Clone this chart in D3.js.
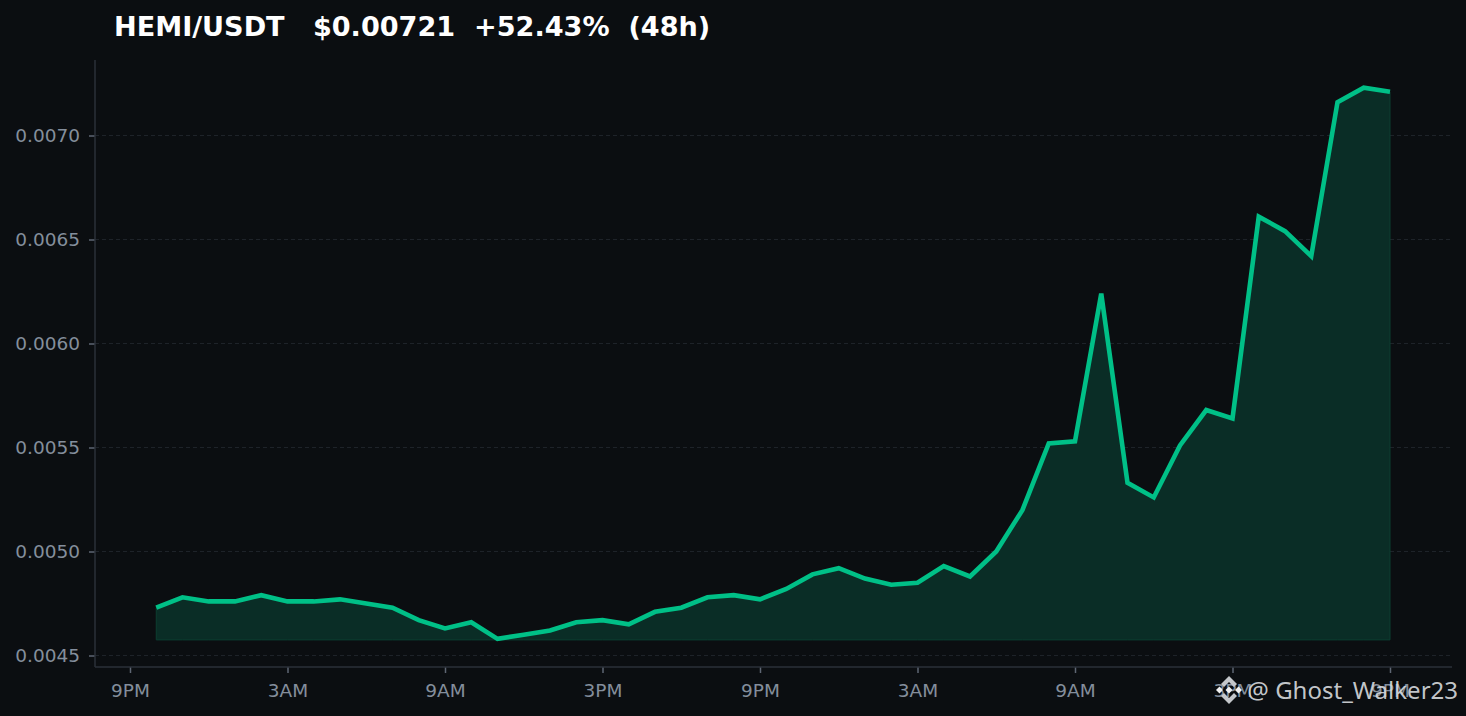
<!DOCTYPE html>
<html>
<head>
<meta charset="utf-8">
<script src="https://cdn.jsdelivr.net/npm/d3@7"></script>
<style>
html, body { margin: 0; padding: 0; background: #0b0e11; overflow: hidden; }
text { font-family: "DejaVu Sans", sans-serif; }
</style>
</head>
<body>
<div id="chart"></div>
<script>
var prices = [0.00473, 0.00478, 0.00476, 0.00476, 0.00479, 0.00476, 0.00476, 0.00477,
	0.00475, 0.00473, 0.00467, 0.00463, 0.00466, 0.00458, 0.00460, 0.00462,
	0.00466, 0.00467, 0.00465, 0.00471, 0.00473, 0.00478, 0.00479, 0.00477,
	0.00482, 0.00489, 0.00492, 0.00487, 0.00484, 0.00485, 0.00493, 0.00488,
	0.00500, 0.00520, 0.00552, 0.00553, 0.00624, 0.00533, 0.00526, 0.00551,
	0.00568, 0.00564, 0.00661, 0.00654, 0.00642, 0.00716, 0.00723, 0.00721];
var hours = d3.range(1, prices.length + 1);
var xTickHours = [0, 6, 12, 18, 24, 30, 36, 42, 48];
var xTickLabels = ["9PM", "3AM", "9AM", "3PM", "9PM", "3AM", "9AM", "3PM", "9PM"];
var yTicks = [0.0045, 0.0050, 0.0055, 0.0060, 0.0065, 0.0070];
var fillBase = 0.004575;
var title = "HEMI/USDT   $0.00721  +52.43%  (48h)";
var watermark = "@ Ghost_Walker23";

var width = 1466, height = 716;
var left = 95, right = 1452, top_ = 60, bottom = 667;

var svg = d3.select("#chart").append("svg")
	.attr("width", width)
	.attr("height", height)
	.style("display", "block");

svg.append("rect").attr("width", width).attr("height", height).attr("fill", "#0b0e11");

var x = d3.scaleLinear().domain([0, 48]).range([130, 1390]);
var y = d3.scaleLinear().domain([0.0045, 0.0070]).range([655.5, 135.5]);

// grid
svg.append("g").selectAll("line").data(yTicks).join("line")
	.attr("x1", left).attr("x2", right)
	.attr("y1", d => y(d)).attr("y2", d => y(d))
	.attr("stroke", "#1e2329")
	.attr("stroke-width", 1)
	.attr("stroke-dasharray", "4,3");

// area under the line
var area = d3.area()
	.x((d, i) => x(hours[i]))
	.y0(y(fillBase))
	.y1(d => y(d));

svg.append("path").datum(prices)
	.attr("d", area)
	.attr("fill", "#0a2d26")
	.attr("stroke", "#0c3e31")
	.attr("stroke-width", 1);

var line = d3.line()
	.x((d, i) => x(hours[i]))
	.y(d => y(d));

svg.append("path").datum(prices)
	.attr("d", line)
	.attr("fill", "none")
	.attr("stroke", "#00c087")
	.attr("stroke-width", 4.6)
	.attr("stroke-linejoin", "miter");

// axes
var xAxis = d3.axisBottom(x)
	.tickValues(xTickHours)
	.tickFormat((d, i) => xTickLabels[i])
	.tickSize(6).tickPadding(11);
var yAxis = d3.axisLeft(y)
	.tickValues(yTicks)
	.tickFormat(d3.format(".4f"))
	.tickSize(6).tickPadding(9);

var gx = svg.append("g").attr("transform", "translate(0," + bottom + ")").call(xAxis);
var gy = svg.append("g").attr("transform", "translate(" + left + ",0)").call(yAxis);

gx.select(".domain").remove();
gy.select(".domain").remove();
[gx, gy].forEach(function(g) {
	g.selectAll("line").attr("stroke", "#5e6673").attr("stroke-width", 1.5);
	g.selectAll("text").attr("fill", "#848e9c").style("font-size", "18.5px")
		.style("font-family", '"DejaVu Sans", sans-serif');
});

svg.append("line").attr("x1", left).attr("x2", left).attr("y1", top_).attr("y2", bottom)
	.attr("stroke", "#2b3139").attr("stroke-width", 1.5);
svg.append("line").attr("x1", left).attr("x2", right).attr("y1", bottom).attr("y2", bottom)
	.attr("stroke", "#2b3139").attr("stroke-width", 1.5);

// title
svg.append("text").attr("x", 114).attr("y", 36)
	.attr("fill", "#ffffff")
	.style("font-size", "27.1px")
	.style("font-weight", "bold")
	.style("white-space", "pre")
	.attr("xml:space", "preserve")
	.text(title);

// watermark
var mark = svg.append("g").attr("transform", "translate(1229,690)").attr("fill", "#c4c7cb");
mark.append("path").attr("d", "M0,-14 L8,-6 L5,-3 L0,-8 L-5,-3 L-8,-6 Z");
mark.append("path").attr("d", "M0,14 L8,6 L5,3 L0,8 L-5,3 L-8,6 Z");
mark.append("path").attr("d", "M0,-3.5 L3.5,0 L0,3.5 L-3.5,0 Z").attr("fill", "#f0f1f2");
mark.append("path").attr("d", "M-9.5,-3.5 L-6,0 L-9.5,3.5 L-13,0 Z").attr("fill", "#f0f1f2");
mark.append("path").attr("d", "M9.5,-3.5 L13,0 L9.5,3.5 L6,0 Z").attr("fill", "#f0f1f2");

svg.append("text").attr("x", 1458).attr("y", 699)
	.attr("text-anchor", "end")
	.attr("fill", "#d5d8dc")
	.attr("fill-opacity", 0.92)
	.style("font-size", "24px")
	.style("font-family", '"Noto Sans", sans-serif')
	.text(watermark);
</script>
</body>
</html>
